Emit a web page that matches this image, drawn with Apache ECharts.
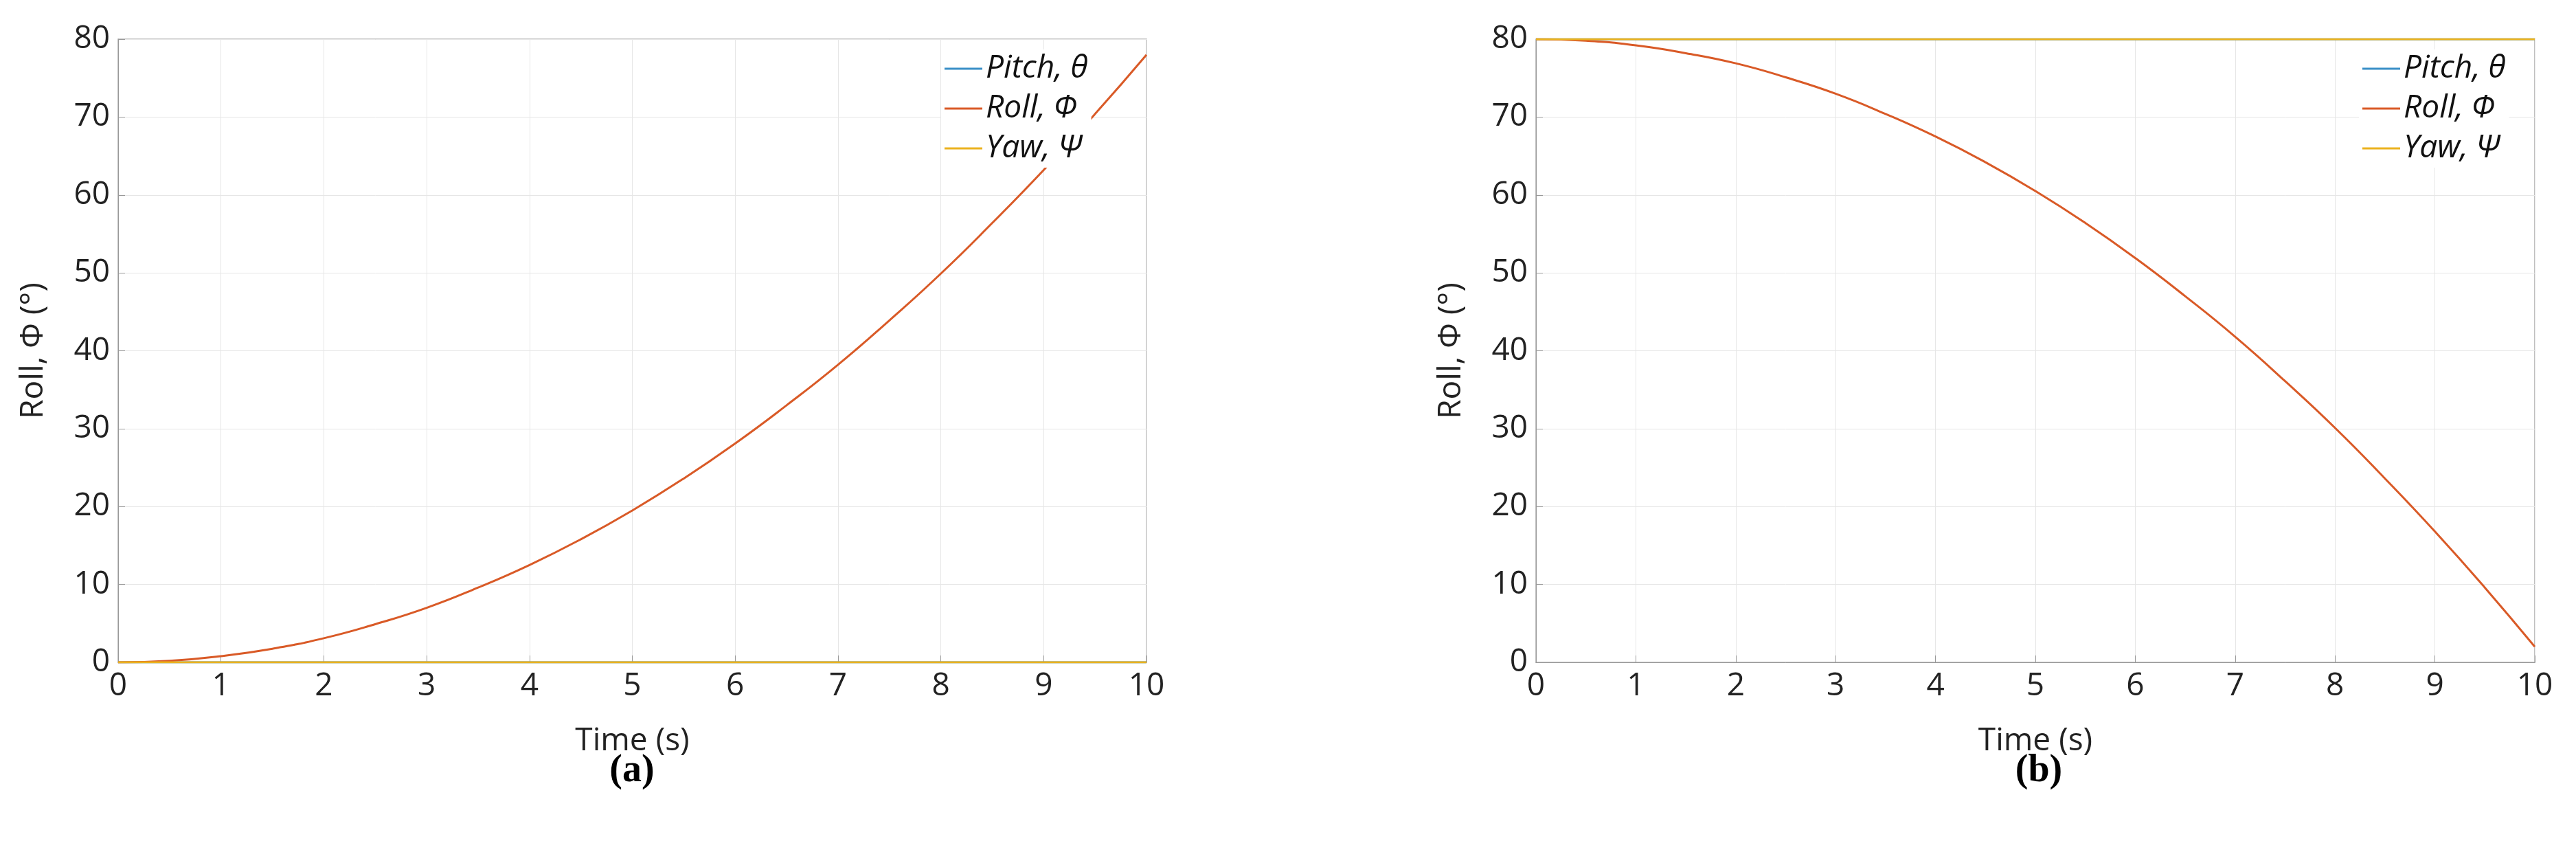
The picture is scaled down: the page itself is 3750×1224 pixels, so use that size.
<!DOCTYPE html>
<html><head><meta charset="utf-8">
<script src="https://cdn.jsdelivr.net/npm/echarts@6/dist/echarts.min.js"></script>
<style>html,body{margin:0;background:#fff}#c{width:3750px;height:1224px}</style>
</head><body><div id="c"></div>
<script>
const time = [0,0.5,1,1.5,2,2.5,3,3.5,4,4.5,5,5.5,6,6.5,7,7.5,8,8.5,9,9.5,10];
const rollA = [0,0.2,0.8,1.75,3.1,4.9,7.0,9.6,12.5,15.8,19.5,23.6,28.1,33.0,38.2,43.9,49.9,56.4,63.2,70.4,78.0];
const pitchA = time.map(()=>0);
const yawA = time.map(()=>0);
const rollB = [80,79.8,79.2,78.2,76.9,75.1,73.0,70.4,67.5,64.2,60.5,56.4,51.9,47.0,41.8,36.1,30.1,23.6,16.8,9.6,2.0];
const pitchB = time.map(()=>80);
const yawB = time.map(()=>80);
const legendNames = ['Pitch, θ','Roll, Φ','Yaw, Ψ'];
const colors = ['#3a8fc7','#d95a27','#ebb21f'];
const pair = (ys)=>time.map((t,i)=>[t,ys[i]]);
const grids=[{left:172,right:3750-1669,top:57,bottom:1224-964},{left:2236,right:3750-3690,top:57,bottom:1224-964}];
const tickFont={fontFamily:'Open Sans',fontSize:46,color:'#222'};
function xa(g){return {type:'value',gridIndex:g,min:0,max:10,interval:1,name:'Time (s)',nameLocation:'middle',nameGap:92,
 nameTextStyle:{fontFamily:'Open Sans',fontSize:46,color:'#222'},axisLabel:{...tickFont,margin:12},
 axisLine:{lineStyle:{color:'#999'}},axisTick:{inside:true,length:10,lineStyle:{color:'#999'}},
 splitLine:{show:true,lineStyle:{color:'#e6e6e6'}}};}
function ya(g){return {type:'value',gridIndex:g,min:0,max:80,interval:10,name:'Roll, Φ (°)',nameLocation:'middle',nameGap:100,
 nameTextStyle:{fontFamily:'Open Sans',fontSize:46,color:'#222'},axisLabel:{...tickFont,margin:12},
 axisLine:{lineStyle:{color:'#999'}},axisTick:{inside:true,length:10,lineStyle:{color:'#999'}},
 splitLine:{show:true,lineStyle:{color:'#e6e6e6'}}};}
function ser(g,arrs){return arrs.map((a,i)=>({type:'line',name:legendNames[i],xAxisIndex:g,yAxisIndex:g,data:pair(a),
 showSymbol:false,smooth:true,lineStyle:{width:3,color:colors[i]},itemStyle:{color:colors[i]},z:i}));}
function leg(g,left){return {orient:'vertical',left:left,top:72,itemWidth:55,itemHeight:3,itemGap:12,icon:'rect',
 data:legendNames,textStyle:{fontFamily:'Open Sans',fontStyle:'italic',fontSize:46,color:'#111'},backgroundColor:'#fff'};}
const chart=echarts.init(document.getElementById('c'));
chart.setOption({
 animation:false,
 grid:grids.map(g=>({...g,show:true,borderColor:'#aaa',borderWidth:1.5,backgroundColor:'#fff'})),
 xAxis:[xa(0),xa(1)], yAxis:[ya(0),ya(1)],
 legend:[leg(0,1370),leg(1,3434)],
 title:[{text:'(a)',left:915,top:1090,textAlign:'center',textStyle:{fontFamily:'Liberation Serif',fontWeight:'bold',fontSize:56,color:'#000'}},
        {text:'(b)',left:2963,top:1090,textAlign:'center',textStyle:{fontFamily:'Liberation Serif',fontWeight:'bold',fontSize:56,color:'#000'}}],
 series:[...ser(0,[pitchA,rollA,yawA]),...ser(1,[pitchB,rollB,yawB])]
});
</script></body></html>
